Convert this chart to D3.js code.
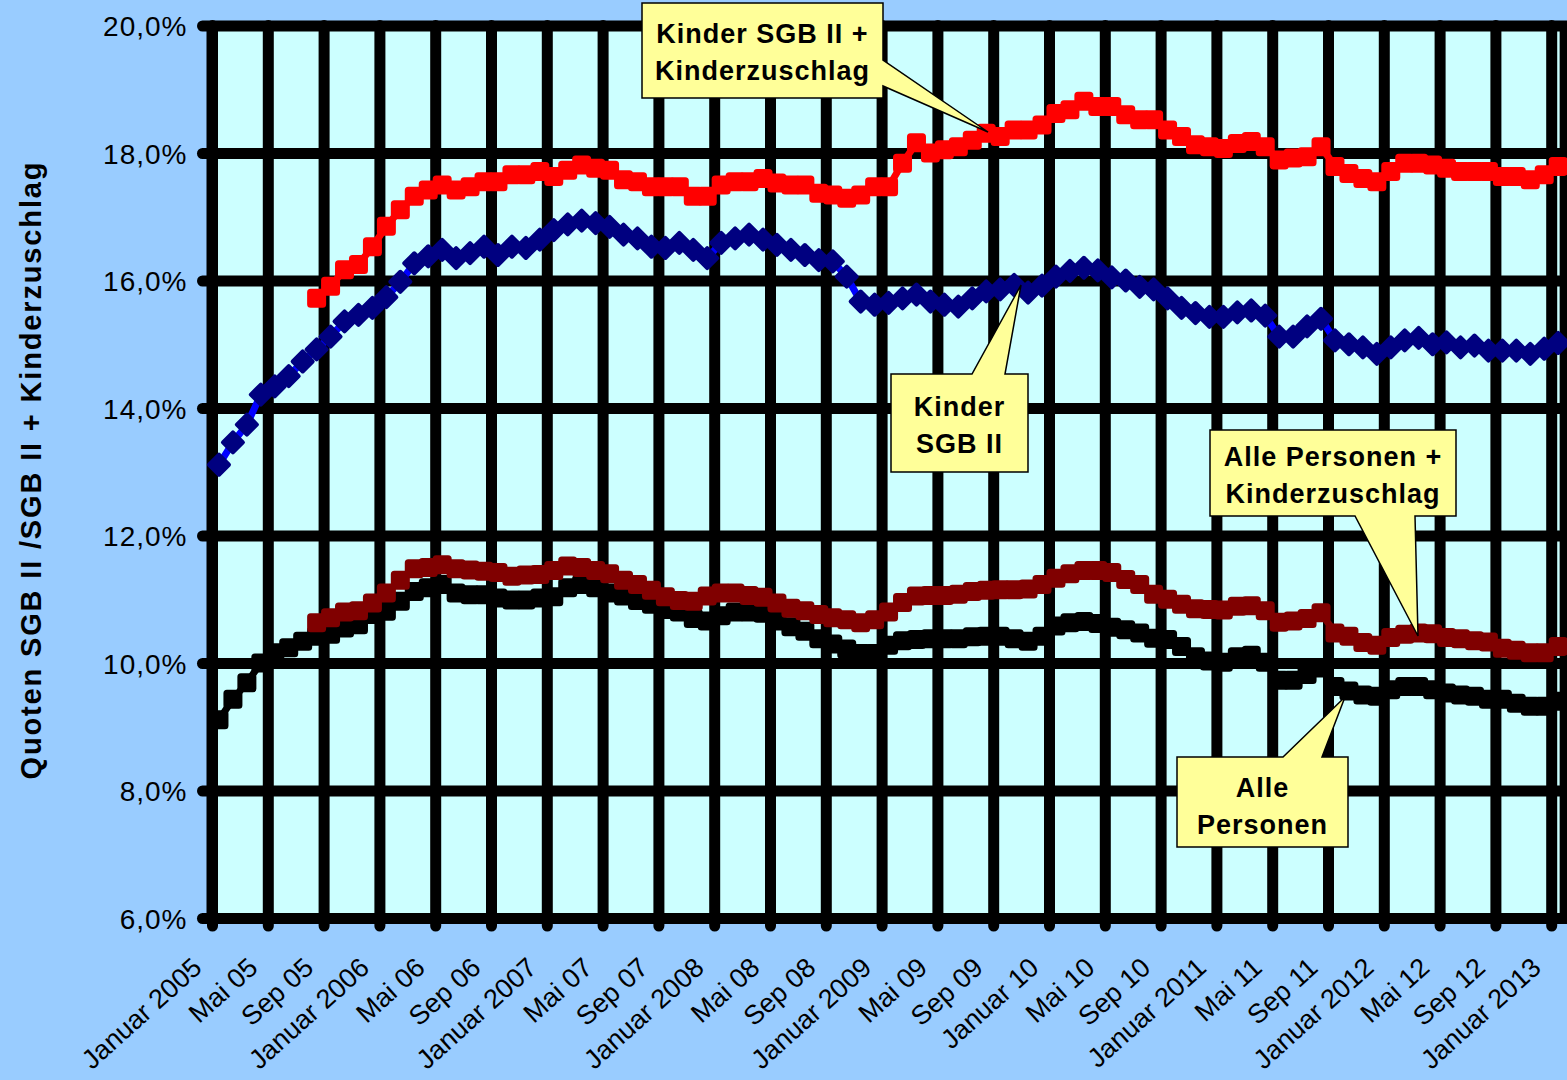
<!DOCTYPE html>
<html><head><meta charset="utf-8">
<script src="https://cdn.jsdelivr.net/npm/d3@7/dist/d3.min.js"></script>
<style>html,body{margin:0;padding:0;background:#99CCFF;overflow:hidden}</style>
</head><body>
<svg id="c" width="1567" height="1080"></svg>
<script>
// ---------- DATA ----------
const tickLabels = ["Januar 2005","Mai 05","Sep 05","Januar 2006","Mai 06","Sep 06","Januar 2007","Mai 07","Sep 07",
  "Januar 2008","Mai 08","Sep 08","Januar 2009","Mai 09","Sep 09","Januar 10","Mai 10","Sep 10",
  "Januar 2011","Mai 11","Sep 11","Januar 2012","Mai 12","Sep 12","Januar 2013"];
const yTicks = [6, 8, 10, 12, 14, 16, 18, 20];
const monthCount = 97; // Jan 2005 .. Jan 2013

// Alle Personen (SGB II)
const alle = [9.11,9.43,9.69,10.0,10.16,10.24,10.34,10.42,10.45,10.55,
  10.6,10.76,10.81,10.97,11.12,11.18,11.23,11.1,11.07,11.07,
  11.02,10.99,10.99,11.02,11.04,11.18,11.23,11.18,11.1,11.05,
  10.98,10.92,10.84,10.8,10.7,10.66,10.74,10.8,10.8,10.78,
  10.66,10.57,10.5,10.38,10.3,10.22,10.15,10.15,10.28,10.35,
  10.37,10.38,10.38,10.38,10.41,10.42,10.42,10.38,10.34,10.42,
  10.58,10.63,10.65,10.62,10.56,10.52,10.47,10.39,10.37,10.26,
  10.1,10.03,10.01,10.1,10.12,10.01,9.73,9.73,9.82,9.92,
  9.63,9.56,9.5,9.48,9.58,9.63,9.63,9.58,9.53,9.5,
  9.48,9.43,9.43,9.37,9.32,9.32,9.4];

// Kinder SGB II
const kinderSgb = [13.11,13.46,13.74,14.21,14.34,14.5,14.73,14.92,15.12,15.36,
  15.46,15.57,15.74,15.98,16.27,16.38,16.48,16.35,16.43,16.53,
  16.4,16.53,16.51,16.64,16.79,16.88,16.94,16.9,16.84,16.72,
  16.66,16.53,16.51,16.59,16.48,16.35,16.59,16.66,16.72,16.64,
  16.56,16.48,16.4,16.32,16.3,16.06,15.67,15.62,15.65,15.72,
  15.78,15.67,15.62,15.59,15.72,15.83,15.86,15.93,15.81,15.92,
  16.06,16.15,16.2,16.16,16.05,16.0,15.9,15.86,15.72,15.57,
  15.49,15.43,15.43,15.5,15.53,15.45,15.12,15.12,15.28,15.4,
  15.06,15.0,14.95,14.85,14.95,15.06,15.1,15.0,15.03,14.95,
  14.98,14.9,14.9,14.9,14.85,14.93,15.02];

// Alle Personen + Kinderzuschlag (from Aug 2005)
const alleKiz = [null,null,null,null,null,null,null,
  10.63,10.71,10.8,
  10.82,10.94,11.1,11.3,11.48,11.5,11.54,11.48,11.46,11.44,
  11.42,11.36,11.38,11.39,11.45,11.52,11.5,11.45,11.4,11.3,
  11.23,11.14,11.04,10.98,10.97,11.05,11.1,11.1,11.06,11.03,
  10.94,10.86,10.82,10.76,10.71,10.68,10.63,10.68,10.8,10.95,
  11.05,11.06,11.06,11.08,11.12,11.14,11.15,11.15,11.16,11.23,
  11.33,11.4,11.45,11.45,11.42,11.31,11.23,11.08,11.0,10.92,
  10.85,10.84,10.83,10.89,10.9,10.82,10.64,10.66,10.7,10.79,
  10.47,10.42,10.32,10.28,10.4,10.45,10.47,10.46,10.4,10.38,
  10.35,10.33,10.23,10.2,10.16,10.16,10.26];

// Kinder SGB II + Kinderzuschlag (from Aug 2005)
const kinderKiz = [null,null,null,null,null,null,null,
  15.72,15.91,16.17,
  16.25,16.53,16.85,17.11,17.32,17.42,17.5,17.42,17.47,17.55,
  17.55,17.66,17.66,17.71,17.63,17.73,17.81,17.76,17.73,17.58,
  17.55,17.47,17.47,17.47,17.32,17.32,17.5,17.55,17.55,17.6,
  17.53,17.5,17.5,17.37,17.34,17.29,17.34,17.47,17.47,17.84,
  18.16,18.0,18.05,18.1,18.2,18.31,18.26,18.36,18.36,18.44,
  18.62,18.68,18.81,18.73,18.73,18.6,18.52,18.52,18.36,18.26,
  18.13,18.1,18.07,18.15,18.18,18.1,17.89,17.92,17.94,18.1,
  17.79,17.68,17.6,17.55,17.71,17.84,17.84,17.81,17.76,17.71,
  17.71,17.71,17.63,17.63,17.58,17.66,17.79];

const seriesDefs = [
  {values: alle,      line: "#000000", marker: "#000000", shape: "square"},
  {values: alleKiz,   line: "#800000", marker: "#800000", shape: "square"},
  {values: kinderSgb, line: "#0000FF", marker: "#000080", shape: "diamond"},
  {values: kinderKiz, line: "#FF0000", marker: "#FF0000", shape: "square"}
];

const callouts = [
  {lines: ["Kinder SGB II +", "Kinderzuschlag"], box: [642, 3, 883, 98], side: "right", base: [60, 86], tip: [988, 132], shift: 1},
  {lines: ["Kinder", "SGB II"], box: [891, 374, 1028, 472], side: "top", base: [972, 1005], tip: [1021, 285], shift: 2},
  {lines: ["Alle Personen +", "Kinderzuschlag"], box: [1210, 430, 1456, 516], side: "bottom", base: [1355, 1415], tip: [1418, 636], shift: 2},
  {lines: ["Alle", "Personen"], box: [1177, 757, 1348, 847], side: "top", base: [1283, 1322], tip: [1345, 697], shift: 4}
];

// ---------- CHART ----------
const svg = d3.select("#c");
const FONT = "'Liberation Sans', Arial, sans-serif";
const left = 212, monthW = 13.95;
const x = d3.scaleLinear().domain([0, monthCount]).range([left, left + monthCount * monthW]);
const y = d3.scaleLinear().domain([6, 20]).range([918, 25.5]);
const right = x(monthCount);

svg.append("rect").attr("width", 1567).attr("height", 1080).attr("fill", "#99CCFF");
svg.append("rect").attr("x", left).attr("y", y(20)).attr("width", right - left).attr("height", y(6) - y(20)).attr("fill", "#CCFFFF");

const loc = d3.formatLocale({decimal: ",", thousands: ".", grouping: [3], currency: ["", "€"]});
const fmt = loc.format(".1f");

// vertical grid + x labels
const xAxisY = 926;
const gx = svg.append("g").attr("transform", `translate(0,${xAxisY})`)
  .call(d3.axisBottom(x).tickValues(d3.range(0, monthCount, 4))
    .tickSizeInner(-(xAxisY - y(20))).tickSizeOuter(0).tickPadding(0)
    .tickFormat((d, i) => tickLabels[i]));
gx.select(".domain").remove();
gx.selectAll(".tick line").attr("stroke", "#000").attr("stroke-width", 11).attr("stroke-linecap", "round");
gx.selectAll(".tick text")
  .attr("font-family", FONT).attr("font-size", 27).attr("fill", "#000")
  .attr("text-anchor", "end").attr("dy", null).attr("y", null)
  .attr("transform", "translate(-9,44) rotate(-42)");

// horizontal grid + y labels
const yAxisX = 202.5;
const gy = svg.append("g").attr("transform", `translate(${yAxisX},0)`)
  .call(d3.axisLeft(y).tickValues(yTicks)
    .tickSizeInner(-(1580 - yAxisX)).tickSizeOuter(0).tickPadding(15)
    .tickFormat(d => fmt(d) + "%"));
gy.select(".domain").remove();
gy.selectAll(".tick line").attr("stroke", "#000").attr("stroke-width", 11).attr("stroke-linecap", "round");
gy.selectAll(".tick text").attr("font-family", FONT).attr("font-size", 28).attr("fill", "#000")
  .attr("letter-spacing", "1px").attr("dy", "0.36em");

// left axis + right border
svg.append("line").attr("x1", left).attr("x2", left).attr("y1", y(20)).attr("y2", y(6)).attr("stroke", "#000").attr("stroke-width", 11);
svg.append("line").attr("x1", right).attr("x2", right).attr("y1", y(20)).attr("y2", y(6)).attr("stroke", "#000").attr("stroke-width", 11);

// series
const px = i => x(i + 0.5);
const lineGen = d3.line().defined(d => d != null).x((d, i) => px(i)).y(d => y(d));
const sq = 8, dm = 10;
seriesDefs.forEach(s => {
  const g = svg.append("g");
  g.append("path").attr("d", lineGen(s.values)).attr("fill", "none")
    .attr("stroke", s.line).attr("stroke-width", 7).attr("stroke-linejoin", "round");
  const pts = s.values.map((v, i) => ({v, i})).filter(d => d.v != null);
  if (s.shape === "square") {
    g.selectAll("rect").data(pts).join("rect")
      .attr("x", d => px(d.i) - sq).attr("y", d => y(d.v) - sq)
      .attr("width", sq * 2).attr("height", sq * 2).attr("rx", 2)
      .attr("fill", s.marker).attr("stroke", s.marker).attr("stroke-width", 3).attr("stroke-linejoin", "round");
  } else {
    g.selectAll("path.m").data(pts).join("path").attr("class", "m")
      .attr("d", d => { const cx = px(d.i), cy = y(d.v);
        return `M${cx},${cy - dm}L${cx + dm},${cy}L${cx},${cy + dm}L${cx - dm},${cy}Z`; })
      .attr("fill", s.marker).attr("stroke", s.marker).attr("stroke-width", 4).attr("stroke-linejoin", "round");
  }
});

// y axis title
svg.append("text").attr("transform", "translate(41,471) rotate(-90)")
  .attr("text-anchor", "middle").attr("font-family", FONT).attr("font-weight", "bold")
  .attr("font-size", 29).attr("fill", "#000")
  .attr("textLength", 617).attr("lengthAdjust", "spacing")
  .text("Quoten SGB II /SGB II + Kinderzuschlag");

// callouts
callouts.forEach(c => {
  const [x0, y0, x1, y1] = c.box, [a, b] = c.base, [tx, ty] = c.tip;
  let pts;
  if (c.side === "right") pts = [[x0,y0],[x1,y0],[x1,a],[tx,ty],[x1,b],[x1,y1],[x0,y1]];
  else if (c.side === "top") pts = [[x0,y0],[a,y0],[tx,ty],[b,y0],[x1,y0],[x1,y1],[x0,y1]];
  else pts = [[x0,y0],[x1,y0],[x1,y1],[b,y1],[tx,ty],[a,y1],[x0,y1]];
  svg.append("path").attr("d", "M" + pts.map(p => p.join(",")).join("L") + "Z")
    .attr("fill", "#FFFF99").attr("stroke", "#000").attr("stroke-width", 1.5).attr("stroke-linejoin", "miter");
  const cx = (x0 + x1) / 2, cy = (y0 + y1) / 2 + c.shift;
  const lh = 37;
  c.lines.forEach((t, i) => {
    svg.append("text").attr("x", cx).attr("y", cy + (i - (c.lines.length - 1) / 2) * lh)
      .attr("dy", "0.36em").attr("text-anchor", "middle")
      .attr("font-family", FONT).attr("font-weight", "bold").attr("font-size", 27)
      .attr("letter-spacing", "1px").attr("fill", "#000").text(t);
  });
});
</script>
</body></html>
